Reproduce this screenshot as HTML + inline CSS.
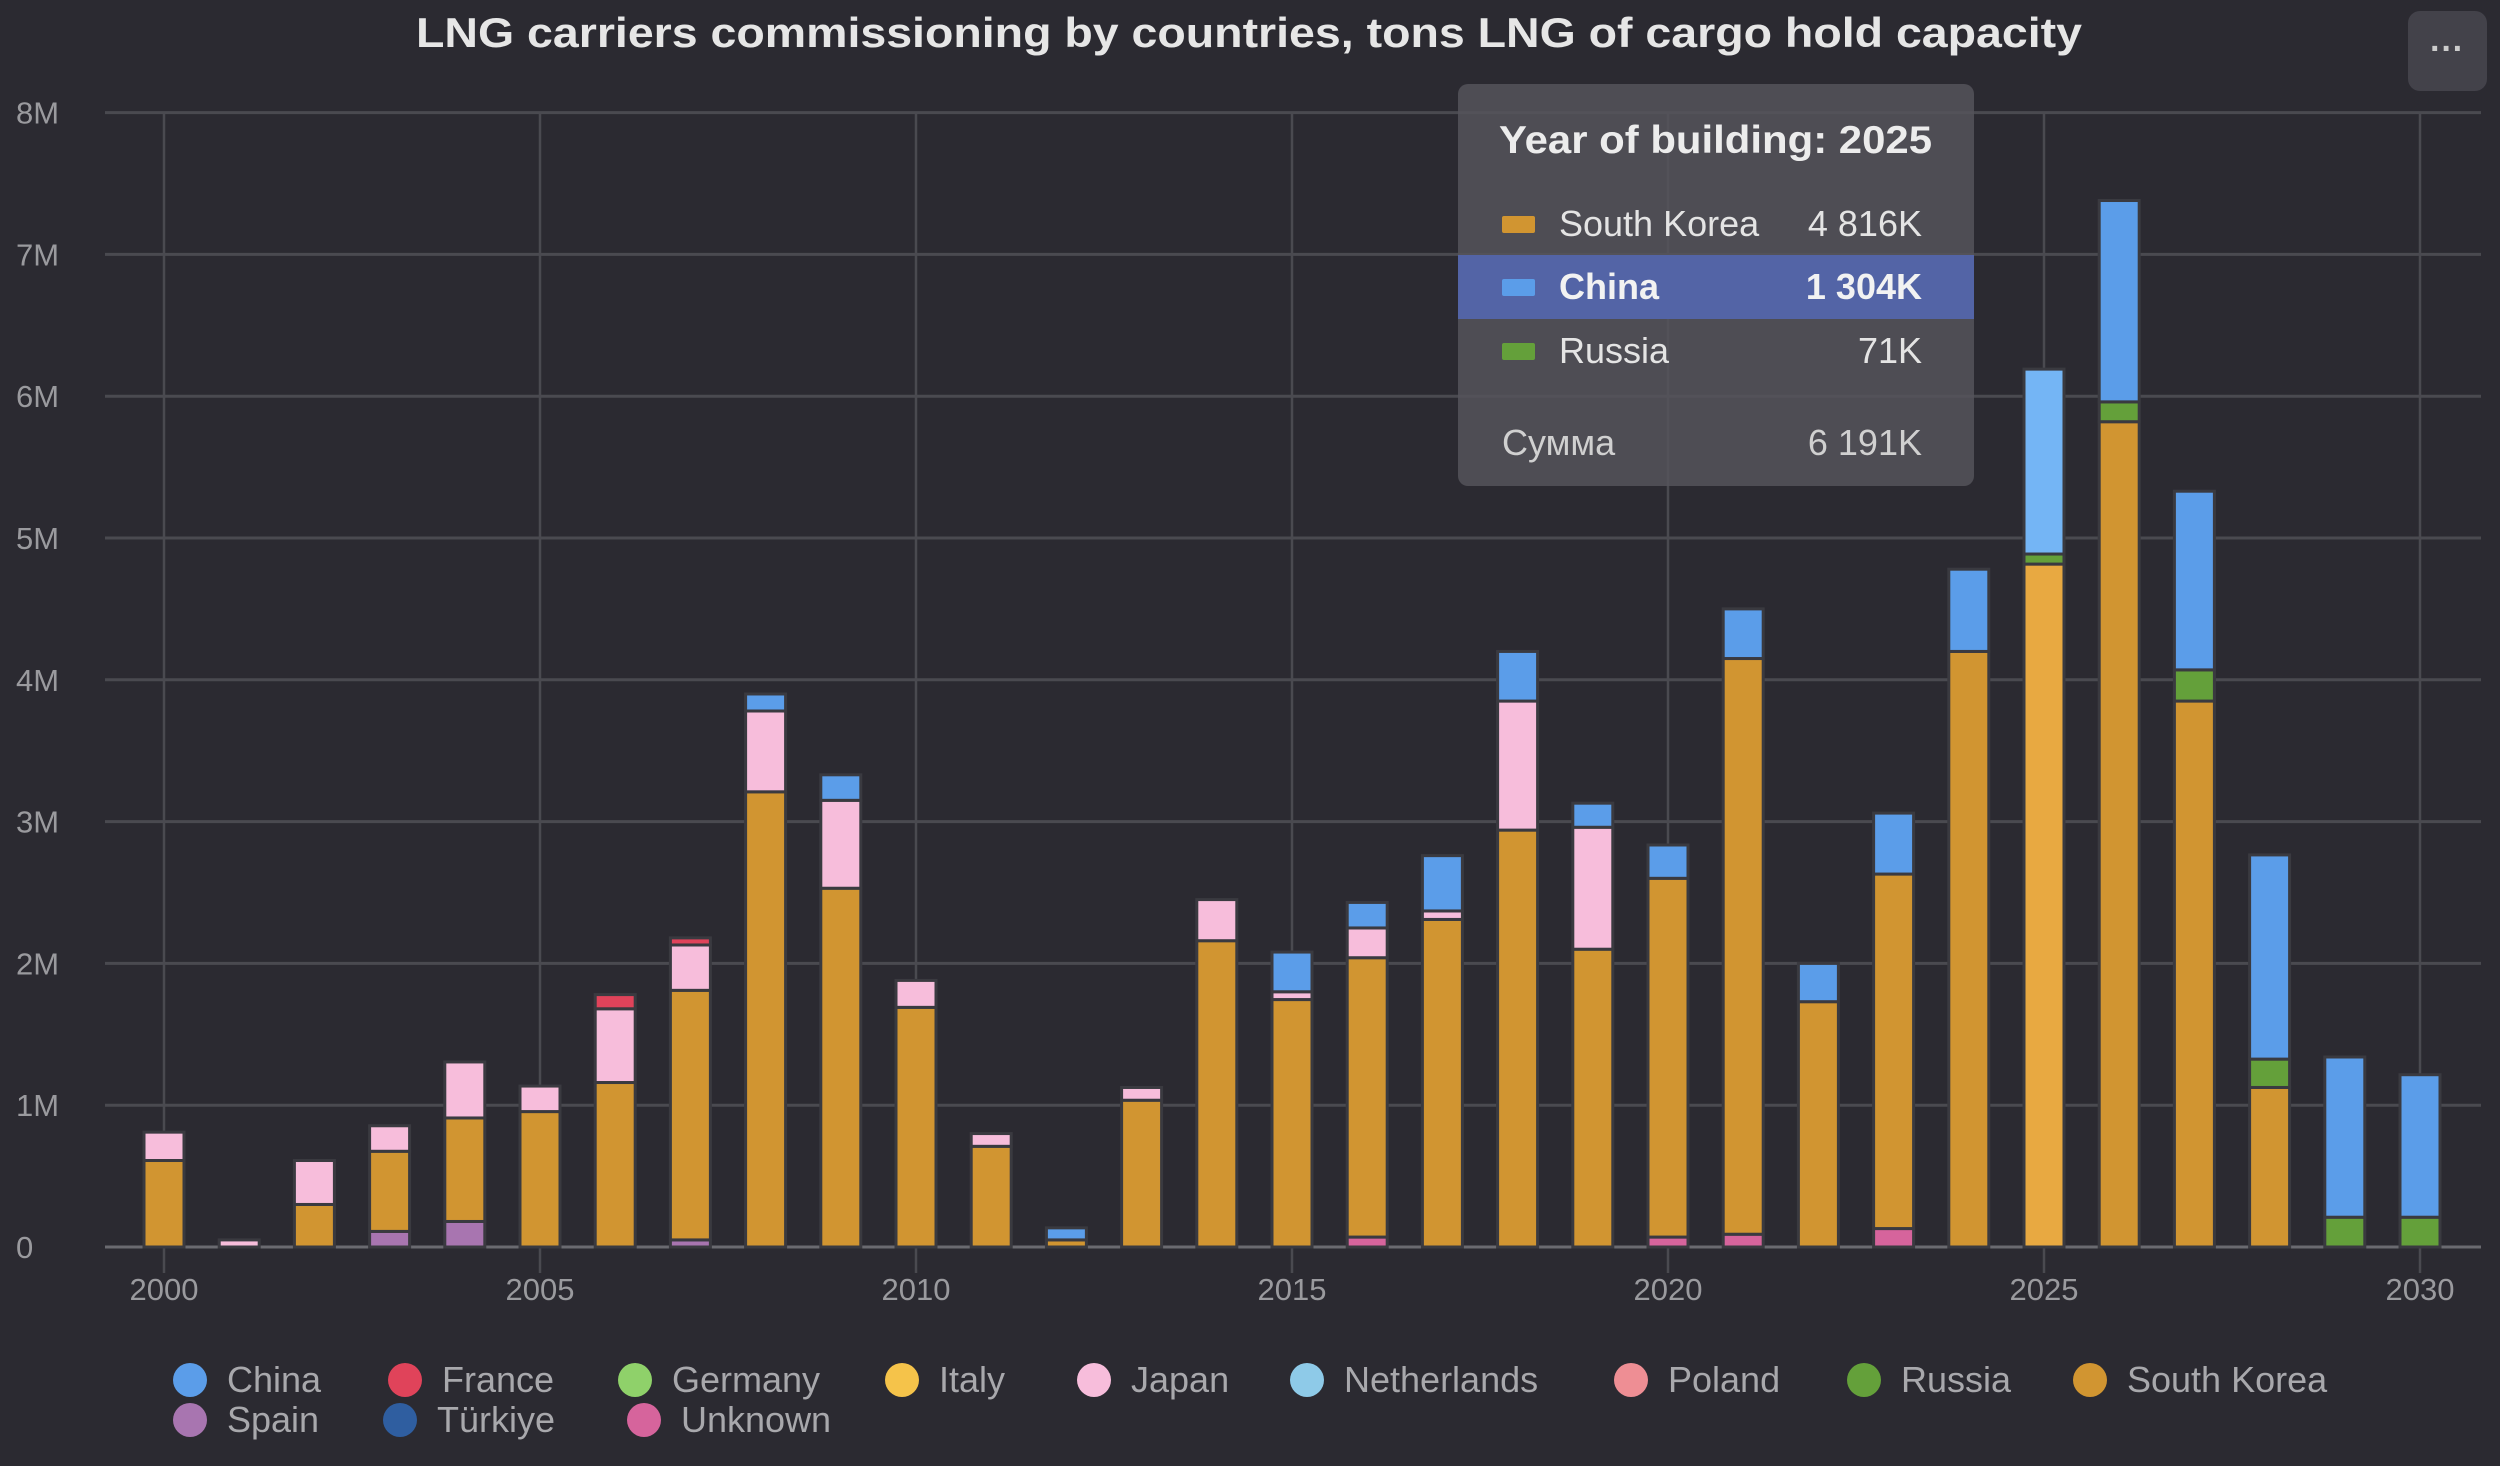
<!DOCTYPE html>
<html><head><meta charset="utf-8"><style>
html,body{margin:0;padding:0;background:#2b2a31;}
body{width:2500px;height:1461px;overflow:hidden;position:relative;font-family:"Liberation Sans",sans-serif;}
svg text{font-family:"Liberation Sans",sans-serif;}
</style></head><body>
<svg id="chart" width="2500" height="1461" xmlns="http://www.w3.org/2000/svg">
<rect width="2500" height="1461" fill="#2b2a31"/>
<text x="416" y="47" textLength="1666" lengthAdjust="spacingAndGlyphs" fill="#e6e6e6" font-size="42" font-weight="bold">LNG carriers commissioning by countries, tons LNG of cargo hold capacity</text>
<g><rect x="2408" y="11" width="79" height="80" rx="12" fill="#43424a"/><text x="2447" y="60" text-anchor="middle" fill="#ccc" font-size="34" font-weight="bold">···</text></g>
<g id="grid"></g><g id="bars"></g><g id="axes"></g>
<g>
<rect x="1458" y="84" width="516" height="402" rx="10" fill="#55545b" fill-opacity="0.85"/>
<text x="1499" y="153" textLength="433" lengthAdjust="spacingAndGlyphs" fill="#ececec" font-size="39" font-weight="bold">Year of building: 2025</text>
<rect x="1502" y="216" width="33" height="17" rx="2" fill="#d19531"/>
<text x="1559" y="236" fill="#e4e4e4" font-size="36">South Korea</text><text x="1922" y="236" text-anchor="end" fill="#e4e4e4" font-size="36">4 816K</text>
<rect x="1458" y="255" width="516" height="64" fill="#5364a6"/>
<rect x="1502" y="279" width="33" height="17" rx="2" fill="#5b9de9"/>
<text x="1559" y="299" fill="#f2f2f2" font-size="36" font-weight="bold">China</text><text x="1922" y="299" text-anchor="end" fill="#f2f2f2" font-size="36" font-weight="bold">1 304K</text>
<rect x="1502" y="343" width="33" height="17" rx="2" fill="#64a03a"/>
<text x="1559" y="363" fill="#e4e4e4" font-size="36">Russia</text><text x="1922" y="363" text-anchor="end" fill="#e4e4e4" font-size="36">71K</text>
<text x="1502" y="455" fill="#d0d0d0" font-size="36">Сумма</text><text x="1922" y="455" text-anchor="end" fill="#d0d0d0" font-size="36">6 191K</text>
</g>
<g id="legend"></g>
</svg>
<script>
const years=[2000,2001,2002,2003,2004,2005,2006,2007,2008,2009,2010,2011,2012,2013,2014,2015,2016,2017,2018,2019,2020,2021,2022,2023,2024,2025,2026,2027,2028,2029,2030];
const spain=[0,0,0,0.11,0.18,0,0,0.05,0,0,0,0,0,0,0,0,0,0,0,0,0,0,0,0,0,0,0,0,0,0,0];
const unknown=[0,0,0,0,0,0,0,0,0,0,0,0,0,0,0,0,0.07,0,0,0,0.07,0.09,0,0.13,0,0,0,0,0,0,0];
const southKorea=[0.61,0,0.30,0.565,0.73,0.955,1.16,1.76,3.21,2.53,1.69,0.71,0.05,1.035,2.16,1.745,1.97,2.31,2.94,2.10,2.53,4.06,1.73,2.50,4.20,4.816,5.82,3.85,1.125,0,0];
const russia=[0,0,0,0,0,0,0,0,0,0,0,0,0,0,0,0,0,0,0,0,0,0,0,0,0,0.071,0.14,0.22,0.20,0.21,0.21];
const japan=[0.20,0.05,0.31,0.18,0.395,0.18,0.52,0.32,0.57,0.62,0.19,0.09,0,0.09,0.29,0.055,0.21,0.06,0.91,0.86,0,0,0,0,0,0,0,0,0,0,0];
const france=[0,0,0,0,0,0,0.10,0.05,0,0,0,0,0,0,0,0,0,0,0,0,0,0,0,0,0,0,0,0,0,0,0];
const china=[0,0,0,0,0,0,0,0,0.12,0.18,0,0,0.085,0,0,0.28,0.18,0.39,0.35,0.17,0.235,0.35,0.27,0.43,0.58,1.304,1.42,1.26,1.44,1.13,1.005];
const yTicks=[0,1,2,3,4,5,6,7,8];
const yTickLabels=["0","1M","2M","3M","4M","5M","6M","7M","8M"];
const xTicks=[2000,2005,2010,2015,2020,2025,2030];
const legendNames=["China","France","Germany","Italy","Japan","Netherlands","Poland","Russia","South Korea","Spain","Türkiye","Unknown"];
const legendColors=["#5b9de9","#e0435a","#8fd16a","#f5c34a","#f7bddb","#8ecae8","#ee8e94","#64a03a","#d19531","#a875b0","#2f5ea0","#d6649c"];

const NS="http://www.w3.org/2000/svg";
const X0=164,PX=75.2,Y0=1247,PY=141.8;
const x=v=>X0+(v-2000)*PX;
const y=v=>Y0-v*PY;
function mk(tag,attrs,parent){const e=document.createElementNS(NS,tag);for(const k in attrs)e.setAttribute(k,attrs[k]);parent.appendChild(e);return e;}
const grid=document.getElementById('grid'),bars=document.getElementById('bars'),axes=document.getElementById('axes'),legend=document.getElementById('legend');
yTicks.forEach((t,i)=>{
  const l=mk('line',{x1:105,x2:2481,y1:y(t),y2:y(t),stroke:i===0?'#6a6a70':'#4a4a50','stroke-width':3},grid);
  
  
  const tx=mk('text',{x:16,y:y(t)+11,fill:'#9a9a9e','font-size':31},axes);
  tx.textContent=yTickLabels[i];
  
  
});
xTicks.forEach(t=>{
  const l=mk('line',{x1:x(t),x2:x(t),y1:112,y2:1273,stroke:'#4a4a50','stroke-width':2.5},grid);
  
  
  const tx=mk('text',{x:x(t),y:1300,'text-anchor':'middle',fill:'#9a9a9e','font-size':31},axes);
  tx.textContent=t;
  
  
});
const series=[[spain,'#a875b0','spain'],[unknown,'#d6649c','unknown'],[southKorea,'#d19531','south-korea'],[russia,'#64a03a','russia'],[japan,'#f7bddb','japan'],[france,'#e0435a','france'],[china,'#5b9de9','china']];
years.forEach((yr,i)=>{
  let base=0;
  series.forEach(([arr,col,nm])=>{
    const v=arr[i]; if(!v) return;
    let c=col;
    if(yr===2025&&nm==='south-korea')c='#e8a941';
    if(yr===2025&&nm==='china')c='#74b5f5';
    const r=mk('rect',{x:x(yr)-20,y:y(base+v),width:40,height:v*PY,fill:c,stroke:'#3a3a40','stroke-width':3},bars);
    
    
    base+=v;
  });
});
const lx=[190,405,635,902,1094,1307,1631,1864,2090,190,400,644];
const ly=[1380,1380,1380,1380,1380,1380,1380,1380,1380,1420,1420,1420];
legendNames.forEach((n,i)=>{
  const g=mk('g',{},legend);
  
  
  mk('circle',{cx:lx[i],cy:ly[i],r:17,fill:legendColors[i]},g);
  const t=mk('text',{x:lx[i]+37,y:ly[i]+12,fill:'#a8a8ac','font-size':36},g);
  t.textContent=n;
});
</script>
</body></html>
